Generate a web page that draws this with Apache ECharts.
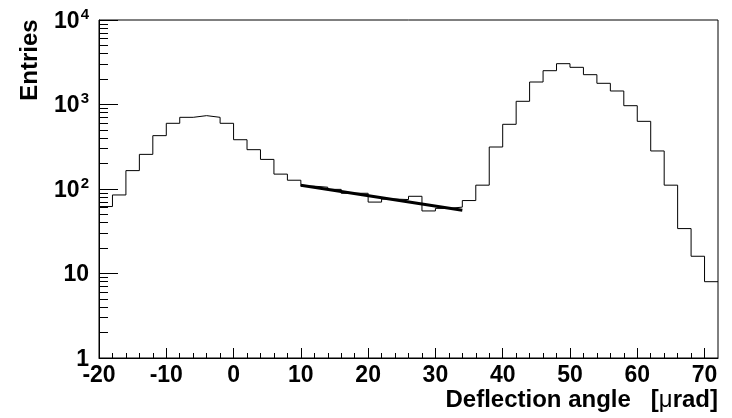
<!DOCTYPE html>
<html>
<head>
<meta charset="utf-8">
<script src="https://cdn.jsdelivr.net/npm/echarts@6/dist/echarts.min.js"></script>
<style>
  html, body { margin: 0; padding: 0; background: #fff; }
  #chart { width: 732px; height: 418px; }
</style>
</head>
<body>
<div id="chart"></div>
<script>
// ---- data ----
const binWidth = 2;
const binLow = [-20,-18,-16,-14,-12,-10,-8,-6,-4,-2,0,2,4,6,8,10,12,14,16,18,20,22,24,26,28,30,32,34,36,38,40,42,44,46,48,50,52,54,56,58,60,62,64,66,68,70];
const counts = [62,85,165,257,428,599,705,738,705,599,383,292,224,150,127,108,105,99,89,89,70,76,75,82,55,59,61,73,111,314,583,1091,1846,2512,3041,2754,2254,1782,1445,968,632,282,111,34,16,8];
const fitX = [10, 22, 34];
const fitY = [111, 79, 56];
const xMajorTicks = [-20,-10,0,10,20,30,40,50,60,70];
const yMajorTicks = [1,10,100,1000,10000];

// ---- derived ----
const histData = binLow.map((x, i) => [x, counts[i]]);
histData.push([binLow[binLow.length - 1] + binWidth, counts[counts.length - 1]]);
const fitData = fitX.map((x, i) => [x, fitY[i]]);

const xMinor = [];
for (let v = -20; v < 72; v += 2) if (v % 10 !== 0) xMinor.push(v);
const yMinor = [];
[1, 10, 100, 1000].forEach(d => { for (let k = 2; k <= 9; k++) yMinor.push(d * k); });

const FONT = 'Liberation Sans';
const chart = echarts.init(document.getElementById('chart'), null, { renderer: 'canvas' });

function yLabel(v) {
  if (v === 1) return '{b|1}';
  if (v === 10) return '{b|10}';
  const e = Math.round(Math.log10(v));
  return '{b|10}{s|' + e + '}';
}

chart.setOption({
  animation: false,
  backgroundColor: '#fff',
  grid: { left: 99, top: 20, right: 14, bottom: 60, show: true, borderColor: '#000', borderWidth: 1, backgroundColor: 'transparent' },
  xAxis: [{
    type: 'value', min: -20, max: 72, interval: 10,
    axisLine: { show: true, onZero: false, lineStyle: { color: '#000', width: 1 } },
    axisTick: { show: true, inside: true, length: 10, lineStyle: { color: '#000' }, customValues: xMajorTicks },
    axisLabel: { show: true, margin: 6, color: '#000', fontFamily: FONT, fontWeight: 'bold', fontSize: 23, customValues: xMajorTicks },
    splitLine: { show: false }
  }, {
    type: 'value', min: -20, max: 72, position: 'bottom',
    axisLine: { show: false, onZero: false },
    axisTick: { show: true, inside: true, length: 5, lineStyle: { color: '#000' }, customValues: xMinor },
    axisLabel: { show: false },
    splitLine: { show: false }
  }],
  yAxis: [{
    type: 'log', logBase: 10, min: 1, max: 10000,
    axisLine: { show: true, onZero: false, lineStyle: { color: '#000', width: 1 } },
    axisTick: { show: true, inside: true, length: 19, lineStyle: { color: '#000' }, customValues: yMajorTicks },
    axisLabel: {
      show: true, margin: 10, color: '#000', customValues: yMajorTicks,
      formatter: yLabel,
      rich: {
        b: { fontFamily: FONT, fontWeight: 'bold', fontSize: 23, color: '#000', lineHeight: 26, verticalAlign: 'bottom' },
        s: { fontFamily: FONT, fontWeight: 'bold', fontSize: 15, color: '#000', lineHeight: 26, verticalAlign: 'top', padding: [0, 0, 0, 1] }
      }
    },
    splitLine: { show: false }
  }, {
    type: 'log', logBase: 10, min: 1, max: 10000, position: 'left',
    axisLine: { show: false, onZero: false },
    axisTick: { show: true, inside: true, length: 9, lineStyle: { color: '#000' }, customValues: yMinor },
    axisLabel: { show: false },
    splitLine: { show: false }
  }],
  graphic: [
    {
      type: 'text', x: 718, y: 400,
      style: {
        text: '{b|Deflection angle   [}{m|μ}{b|rad]}',
        align: 'right', verticalAlign: 'middle',
        rich: {
          b: { fontFamily: FONT, fontWeight: 'bold', fontSize: 24, fill: '#000', color: '#000' },
          m: { fontFamily: FONT, fontWeight: 'normal', fontSize: 24, fill: '#000', color: '#000' }
        }
      }
    },
    {
      type: 'text', x: 30, y: 60, rotation: Math.PI / 2,
      style: {
        text: 'Entries', align: 'center', verticalAlign: 'middle',
        font: 'bold 24px "Liberation Sans"', fill: '#000'
      }
    }
  ],
  series: [
    {
      type: 'line', xAxisIndex: 0, yAxisIndex: 0,
      data: histData, step: 'end', symbol: 'none',
      lineStyle: { color: '#000', width: 1 }
    },
    {
      type: 'line', xAxisIndex: 0, yAxisIndex: 0,
      data: fitData, symbol: 'none', smooth: false,
      lineStyle: { color: '#000', width: 3 }
    }
  ]
});
</script>
</body>
</html>
